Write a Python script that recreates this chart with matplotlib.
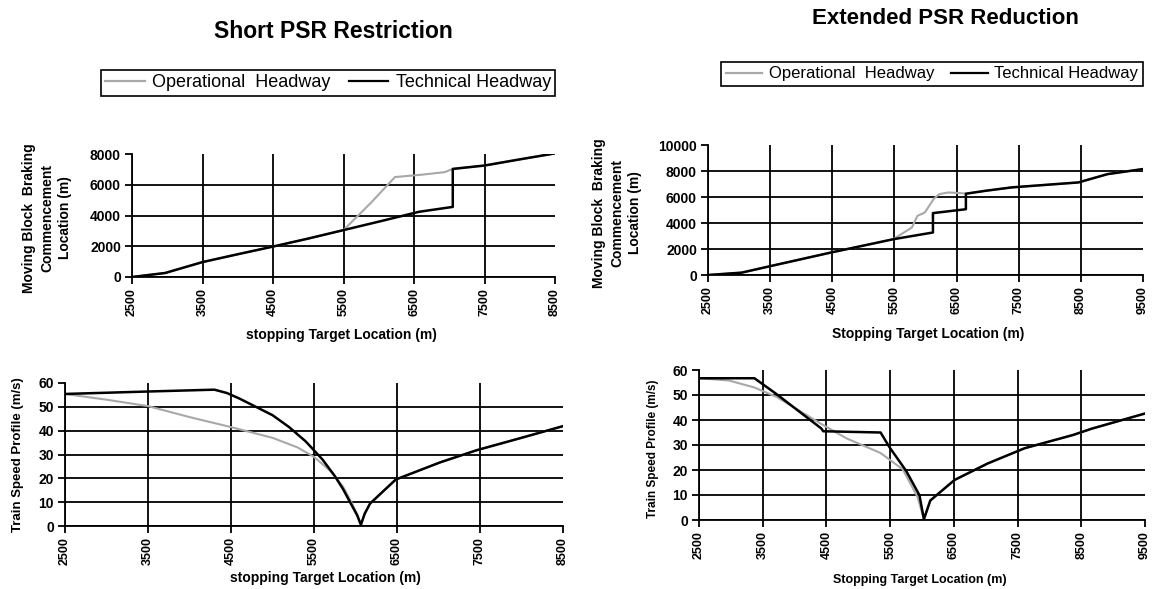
import matplotlib.pyplot as plt
from matplotlib.lines import Line2D

plt.rcParams['font.family'] = ['Liberation Sans', 'DejaVu Sans']

# Short PSR restriction: braking commencement location vs stopping target (m)
short_tech_x = [2500, 2970, 3500, 4000, 4500, 5000, 5500, 6000, 6570, 7050, 7050, 7500, 8000, 8500]
short_tech_y = [0, 260, 970, 1480, 1980, 2500, 3050, 3600, 4240, 4560, 7030, 7250, 7650, 8040]
short_oper_x = [2500, 2970, 3500, 4000, 4500, 5000, 5500, 5900, 6230, 6600, 6935, 7050, 7500, 8000, 8500]
short_oper_y = [0, 260, 970, 1480, 1980, 2500, 3050, 4880, 6500, 6650, 6820, 7030, 7250, 7650, 8040]

# Extended PSR reduction: braking commencement location vs stopping target (m)
ext_tech_x = [2500, 3040, 3510, 4470, 5480, 6120, 6120, 6650, 6650, 6970, 7390, 8460, 8930, 9500]
ext_tech_y = [0, 180, 690, 1720, 2750, 3270, 4760, 5060, 6250, 6480, 6740, 7120, 7760, 8150]
ext_oper_x = [2500, 3040, 3510, 4470, 5480, 5780, 5870, 5990, 6130, 6220, 6370, 6650, 6970, 7390, 8460, 8930, 9500]
ext_oper_y = [0, 180, 690, 1720, 2750, 3650, 4550, 4810, 5840, 6220, 6350, 6270, 6480, 6740, 7120, 7760, 8150]

# Train speed profiles (m/s)
short_tech_spd_x = [2500, 3470, 4300, 4450, 4600, 4800, 5000, 5200, 5400, 5600, 5750, 5850,
                    5950, 6020, 6065, 6110, 6175, 6485, 7020, 7460, 7990, 8500]
short_tech_spd_y = [55.4, 56.4, 57.2, 55.8, 53.5, 50.0, 46.5, 41.5, 35.5, 28.0, 21.0, 15.5,
                    9.0, 4.5, 0.5, 5.1, 9.4, 19.5, 26.7, 31.8, 36.9, 41.9]
short_oper_spd_x = [2500, 3000, 3500, 4000, 4500, 5000, 5300, 5500, 5700, 5850, 5950, 6020, 6065]
short_oper_spd_y = [55.4, 53.0, 50.3, 45.7, 41.5, 37.0, 33.0, 29.0, 23.0, 16.5, 10.0, 5.0, 0.5]

ext_tech_spd_x = [2500, 3370, 3720, 4420, 4450, 5350, 5490, 5750, 5960, 6030,
                  6130, 6510, 7030, 7610, 8370, 8660, 9500]
ext_tech_spd_y = [56.7, 56.7, 50.3, 36.6, 35.5, 35.0, 29.1, 19.7, 9.9, 0.3,
                  7.8, 16.0, 22.6, 28.7, 34.0, 36.5, 42.6]
ext_oper_spd_x = [2500, 2970, 3370, 3720, 4420, 4820, 5350, 5700, 5930, 6030]
ext_oper_spd_y = [56.7, 55.8, 53.0, 49.2, 38.4, 32.6, 26.8, 20.2, 9.2, 0.3]

short_xticks = [2500, 3500, 4500, 5500, 6500, 7500, 8500]
ext_xticks = [2500, 3500, 4500, 5500, 6500, 7500, 8500, 9500]
short_head_yticks = [0, 2000, 4000, 6000, 8000]
ext_head_yticks = [0, 2000, 4000, 6000, 8000, 10000]
speed_yticks = [0, 10, 20, 30, 40, 50, 60]

OPER = '#a8a8a8'
W, H = 1159, 589


def box(l, t, r, b):
    return [l / W, 1 - b / H, (r - l) / W, (b - t) / H]


def ftext(fig, x, y, s, **kw):
    fig.text(x / W, 1 - y / H, s, ha='center', va='center', **kw)


def style(ax, xticks, yticks, xsize=9, ysize=10):
    ax.set_xlim(xticks[0], xticks[-1])
    ax.set_ylim(yticks[0], yticks[-1])
    ax.set_xticks(xticks)
    ax.set_yticks(yticks)
    ax.set_xticklabels([str(t) for t in xticks], rotation=90, fontsize=xsize, fontweight='bold')
    ax.set_yticklabels([str(t) for t in yticks], fontsize=ysize, fontweight='bold')
    ax.grid(True, color='black', lw=1.3)
    # no gridline along the top and right edges
    ax.xaxis.get_gridlines()[-1].set_visible(False)
    ax.yaxis.get_gridlines()[-1].set_visible(False)
    for s in ['top', 'right']:
        ax.spines[s].set_visible(False)
    for s in ['left', 'bottom']:
        ax.spines[s].set_linewidth(1.3)
    ax.tick_params(direction='out', length=5, width=1.3, pad=3)
    ax.set_axisbelow(True)


def legend(fig, x, y, size):
    handles = [Line2D([], [], color=OPER, lw=1.6), Line2D([], [], color='black', lw=1.6)]
    leg = fig.legend(handles, ['Operational  Headway', 'Technical Headway'],
                     loc='center', bbox_to_anchor=(x / W, 1 - y / H), ncol=2,
                     fontsize=size, frameon=True, fancybox=False, framealpha=1,
                     edgecolor='black', borderpad=0.25, handlelength=2.2,
                     handletextpad=0.4, columnspacing=1.0)
    leg.get_frame().set_linewidth(1.2)


fig = plt.figure(figsize=(W / 100, H / 100), dpi=100)

# Short PSR restriction
ftext(fig, 333, 32, 'Short PSR Restriction', fontsize=16.5, fontweight='bold')
legend(fig, 328, 83, 13)

ax1 = fig.add_axes(box(132, 154, 555, 277))
ax1.plot(short_oper_x, short_oper_y, color=OPER, lw=1.5)
ax1.plot(short_tech_x, short_tech_y, color='black', lw=1.8)
style(ax1, short_xticks, short_head_yticks)
ftext(fig, 47, 218, 'Moving Block  Braking\nCommencement\nLocation (m)',
      rotation=90, fontsize=10, fontweight='bold', linespacing=1.35)
ftext(fig, 341, 335, 'stopping Target Location (m)', fontsize=10, fontweight='bold')

ax2 = fig.add_axes(box(65, 383, 563, 526))
ax2.plot(short_oper_spd_x + short_tech_spd_x[15:], short_oper_spd_y + short_tech_spd_y[15:],
         color=OPER, lw=1.5)
ax2.plot(short_tech_spd_x, short_tech_spd_y, color='black', lw=1.8)
style(ax2, short_xticks, speed_yticks)
ftext(fig, 18, 455, 'Train Speed Profile (m/s)', rotation=90, fontsize=9.5, fontweight='bold')
ftext(fig, 325, 578, 'stopping Target Location (m)', fontsize=10, fontweight='bold')

# Extended PSR reduction
ftext(fig, 945, 18, 'Extended PSR Reduction', fontsize=16, fontweight='bold')
legend(fig, 932, 74, 12)

ax3 = fig.add_axes(box(708, 145, 1143, 275))
ax3.plot(ext_oper_x, ext_oper_y, color=OPER, lw=1.5)
ax3.plot(ext_tech_x, ext_tech_y, color='black', lw=1.8)
style(ax3, ext_xticks, ext_head_yticks)
ftext(fig, 617, 213, 'Moving Block  Braking\nCommencement\nLocation (m)',
      rotation=90, fontsize=10, fontweight='bold', linespacing=1.35)
ftext(fig, 928, 334, 'Stopping Target Location (m)', fontsize=10, fontweight='bold')

ax4 = fig.add_axes(box(699, 370, 1145, 520))
ax4.plot(ext_oper_spd_x + ext_tech_spd_x[10:], ext_oper_spd_y + ext_tech_spd_y[10:],
         color=OPER, lw=1.5)
ax4.plot(ext_tech_spd_x, ext_tech_spd_y, color='black', lw=1.8)
style(ax4, ext_xticks, speed_yticks)
ftext(fig, 653, 449, 'Train Speed Profile (m/s)', rotation=90, fontsize=8.5, fontweight='bold')
ftext(fig, 920, 580, 'Stopping Target Location (m)', fontsize=9, fontweight='bold')

fig.savefig('out.png', dpi=100)
